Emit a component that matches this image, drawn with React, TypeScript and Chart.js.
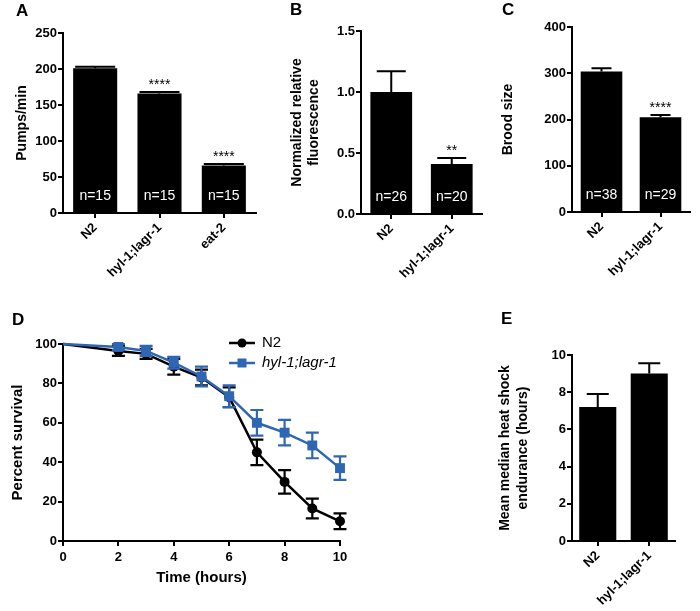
import React, { useEffect, useRef } from 'react';
import { Chart, registerables } from 'chart.js';
Chart.register(...registerables);

const FONT = "'Liberation Sans', Arial, Helvetica, sans-serif";
const BLUE = '#2f66b3';

// ---------- Panel A: pumping rate ----------
const aCategories = ['N2', 'hyl-1;lagr-1', 'eat-2'];
const aValues = [201, 166, 66];
const aErrors = [2, 2, 2];
const aN = ['n=15', 'n=15', 'n=15'];
const aStars = ['', '****', '****'];

// ---------- Panel B: normalized relative fluorescence ----------
const bCategories = ['N2', 'hyl-1;lagr-1'];
const bValues = [1.0, 0.41];
const bErrors = [0.17, 0.05];
const bN = ['n=26', 'n=20'];
const bStars = ['', '**'];

// ---------- Panel C: brood size ----------
const cCategories = ['N2', 'hyl-1;lagr-1'];
const cValues = [304, 205];
const cErrors = [7, 5];
const cN = ['n=38', 'n=29'];
const cStars = ['', '****'];

// ---------- Panel D: survival ----------
const dHours = [0, 2, 3, 4, 5, 6, 7, 8, 9, 10];
const dN2 = [100, 96.5, 95, 88.5, 83, 73, 45, 30, 16.5, 10];
const dN2Err = [0, 2.5, 2.5, 4, 4, 5, 6.5, 6, 5, 4];
const dMut = [100, 98.5, 96.5, 90.5, 83.5, 73.5, 60, 55, 48.5, 37];
const dMutErr = [0, 1.5, 2.5, 3, 5, 5.5, 6.5, 6.5, 6.5, 6];
const dSeriesNames = ['N2', 'hyl-1;lagr-1'];

// ---------- Panel E: heat shock endurance ----------
const eCategories = ['N2', 'hyl-1;lagr-1'];
const eValues = [7.2, 9.0];
const eErrors = [0.7, 0.55];

type Area = { l: number; r: number; t: number; b: number };
type BarPanel = {
  labels: string[];
  values: number[];
  errors: number[];
  nLabels?: string[];
  stars?: string[];
  min: number;
  max: number;
  step: number;
  decimals: number;
  title: string | string[];
  titlePad: number;
  titleLH: number;
  cw: number;
  ch: number;
  area: Area;
  barPct: number;
  capW: number;
};

function makeBar(canvas: HTMLCanvasElement, p: BarPanel) {
  const extras = {
    id: 'barExtras',
    afterDatasetsDraw(chart: any) {
      const { ctx } = chart;
      const y = chart.scales.y;
      const meta = chart.getDatasetMeta(0);
      meta.data.forEach((bar: any, i: number) => {
        const v = p.values[i];
        const e = p.errors[i];
        const yv = y.getPixelForValue(v);
        const yt = y.getPixelForValue(v + e);
        ctx.save();
        ctx.strokeStyle = '#000';
        ctx.lineWidth = 2;
        ctx.beginPath();
        ctx.moveTo(bar.x, yv);
        ctx.lineTo(bar.x, yt);
        ctx.moveTo(bar.x - p.capW / 2, yt);
        ctx.lineTo(bar.x + p.capW / 2, yt);
        ctx.stroke();
        if (p.nLabels) {
          ctx.fillStyle = '#fff';
          ctx.font = `14px ${FONT}`;
          ctx.textAlign = 'center';
          ctx.textBaseline = 'middle';
          ctx.fillText(p.nLabels[i], bar.x, y.bottom - 17);
        }
        if (p.stars && p.stars[i]) {
          ctx.fillStyle = '#000';
          ctx.font = `14px ${FONT}`;
          ctx.textAlign = 'center';
          ctx.textBaseline = 'alphabetic';
          ctx.fillText(p.stars[i], bar.x, yt - 3);
        }
        ctx.restore();
      });
    },
  };
  return new Chart(canvas, {
    type: 'bar',
    data: {
      labels: p.labels,
      datasets: [
        {
          data: p.values,
          backgroundColor: '#000',
          borderWidth: 0,
          barPercentage: p.barPct,
          categoryPercentage: 1,
        },
      ],
    },
    options: {
      animation: false,
      responsive: false,
      events: [],
      layout: { padding: { left: 0, top: p.area.t, right: p.cw - p.area.r, bottom: 0 } },
      plugins: { legend: { display: false }, tooltip: { enabled: false } },
      scales: {
        x: {
          type: 'category',
          offset: true,
          grid: { offset: false, drawOnChartArea: false, drawTicks: true, tickLength: 5, lineWidth: 2, color: '#000' },
          border: { display: true, color: '#000', width: 2 },
          ticks: {
            minRotation: 45,
            maxRotation: 45,
            autoSkip: false,
            padding: 2,
            color: '#000',
            font: { family: FONT, size: 13, weight: 'bold' },
          },
          afterFit: (s: any) => {
            s.height = p.ch - p.area.b;
          },
        },
        y: {
          type: 'linear',
          min: p.min,
          max: p.max,
          grid: { drawOnChartArea: false, drawTicks: true, tickLength: 5, lineWidth: 2, color: '#000' },
          border: { display: true, color: '#000', width: 2 },
          ticks: {
            stepSize: p.step,
            padding: 1,
            color: '#000',
            font: { family: FONT, size: 13, weight: 'bold' },
            callback: (v: any) => Number(v).toFixed(p.decimals),
          },
          title: {
            display: true,
            text: p.title,
            color: '#000',
            font: { family: FONT, size: 14, weight: 'bold', lineHeight: p.titleLH },
            padding: { top: p.titlePad, bottom: 0 },
          },
          afterFit: (s: any) => {
            s.width = p.area.l;
          },
        },
      },
    },
    plugins: [extras],
  } as any);
}

function makeSurvival(canvas: HTMLCanvasElement) {
  const cw = 380;
  const ch = 291;
  const area: Area = { l: 63, r: 340, t: 24, b: 221 };
  const errs = [dN2Err, dMutErr];
  const colors = ['#000', BLUE];
  const errPlugin = {
    id: 'errBars',
    afterDatasetDraw(chart: any, args: any) {
      const { ctx } = chart;
      const y = chart.scales.y;
      const i = args.index;
      const ds = chart.data.datasets[i];
      args.meta.data.forEach((pt: any, j: number) => {
        const e = errs[i][j];
        if (!e) return;
        const v = ds.data[j].y;
        const y1 = y.getPixelForValue(v + e);
        const y2 = y.getPixelForValue(v - e);
        ctx.save();
        ctx.strokeStyle = colors[i];
        ctx.lineWidth = 2.2;
        ctx.beginPath();
        ctx.moveTo(pt.x, y1);
        ctx.lineTo(pt.x, y2);
        ctx.moveTo(pt.x - 6.5, y1);
        ctx.lineTo(pt.x + 6.5, y1);
        ctx.moveTo(pt.x - 6.5, y2);
        ctx.lineTo(pt.x + 6.5, y2);
        ctx.stroke();
        ctx.restore();
      });
    },
    afterDraw(chart: any) {
      const { ctx } = chart;
      const rows = [
        { y: 23, color: '#000', style: 'circle', italic: false },
        { y: 43, color: BLUE, style: 'rect', italic: true },
      ];
      rows.forEach((r, i) => {
        ctx.save();
        ctx.strokeStyle = r.color;
        ctx.fillStyle = r.color;
        ctx.lineWidth = 2.5;
        ctx.beginPath();
        ctx.moveTo(229, r.y);
        ctx.lineTo(255, r.y);
        ctx.stroke();
        if (r.style === 'circle') {
          ctx.beginPath();
          ctx.arc(242, r.y, 4.5, 0, Math.PI * 2);
          ctx.fill();
        } else {
          ctx.fillRect(237.5, r.y - 4.5, 9, 9);
        }
        ctx.fillStyle = '#000';
        ctx.font = `${r.italic ? 'italic ' : ''}15px ${FONT}`;
        ctx.textAlign = 'left';
        ctx.textBaseline = 'middle';
        ctx.fillText(dSeriesNames[i], 262, r.y);
        ctx.restore();
      });
    },
  };
  return new Chart(canvas, {
    type: 'line',
    data: {
      datasets: [
        {
          label: dSeriesNames[0],
          data: dHours.map((h, i) => ({ x: h, y: dN2[i] })),
          borderColor: '#000',
          backgroundColor: '#000',
          pointStyle: 'circle',
          pointRadius: dHours.map((h) => (h === 0 ? 0 : 5)),
          pointBorderWidth: 0,
          borderWidth: 2.5,
          clip: false,
          order: 1,
        },
        {
          label: dSeriesNames[1],
          data: dHours.map((h, i) => ({ x: h, y: dMut[i] })),
          borderColor: BLUE,
          backgroundColor: BLUE,
          pointStyle: 'rect',
          pointRadius: dHours.map((h) => (h === 0 ? 0 : 7)),
          pointBorderWidth: 0,
          borderWidth: 2.5,
          clip: false,
          order: 0,
        },
      ],
    },
    options: {
      animation: false,
      responsive: false,
      events: [],
      layout: { padding: { left: 0, top: area.t, right: cw - area.r, bottom: 0 } },
      plugins: { legend: { display: false }, tooltip: { enabled: false } },
      scales: {
        x: {
          type: 'linear',
          min: 0,
          max: 10,
          grid: { drawOnChartArea: false, drawTicks: true, tickLength: 5, lineWidth: 2, color: '#000' },
          border: { display: true, color: '#000', width: 2 },
          ticks: { stepSize: 2, padding: 4, color: '#000', font: { family: FONT, size: 13, weight: 'bold' } },
          title: {
            display: true,
            text: 'Time (hours)',
            color: '#000',
            font: { family: FONT, size: 15, weight: 'bold' },
            padding: { top: 0, bottom: 24 },
          },
          afterFit: (s: any) => {
            s.height = ch - area.b;
          },
        },
        y: {
          type: 'linear',
          min: 0,
          max: 100,
          grid: { drawOnChartArea: false, drawTicks: true, tickLength: 5, lineWidth: 2, color: '#000' },
          border: { display: true, color: '#000', width: 2 },
          ticks: { stepSize: 20, padding: 1, color: '#000', font: { family: FONT, size: 13, weight: 'bold' } },
          title: {
            display: true,
            text: 'Percent survival',
            color: '#000',
            font: { family: FONT, size: 15, weight: 'bold' },
            padding: { top: 9, bottom: 0 },
          },
          afterFit: (s: any) => {
            s.width = area.l;
          },
        },
      },
    },
    plugins: [errPlugin],
  } as any);
}

const panels = [
  { key: 'A', left: 0, top: 0, w: 262, h: 320 },
  { key: 'B', left: 262, top: 0, w: 228, h: 320 },
  { key: 'C', left: 490, top: 0, w: 210, h: 320 },
  { key: 'D', left: 0, top: 320, w: 380, h: 291 },
  { key: 'E', left: 380, top: 320, w: 320, h: 291 },
];

const letters = [
  { t: 'A', x: 16, y: 2 },
  { t: 'B', x: 290, y: 1 },
  { t: 'C', x: 502, y: 1 },
  { t: 'D', x: 12, y: 311 },
  { t: 'E', x: 501, y: 310 },
];

export default function App() {
  const refs = useRef<(HTMLCanvasElement | null)[]>([]);
  useEffect(() => {
    document.body.style.margin = '0';
    const [a, b, c, d, e] = refs.current as HTMLCanvasElement[];
    const charts = [
      makeBar(a, {
        labels: aCategories, values: aValues, errors: aErrors, nLabels: aN, stars: aStars,
        min: 0, max: 250, step: 50, decimals: 0, title: 'Pumps/min', titlePad: 13.6, titleLH: 1.2,
        cw: 262, ch: 320, area: { l: 63, r: 256, t: 33, b: 213 }, barPct: 0.685, capW: 40,
      }),
      makeBar(b, {
        labels: bCategories, values: bValues, errors: bErrors, nLabels: bN, stars: bStars,
        min: 0, max: 1.5, step: 0.5, decimals: 1, title: ['Normalized relative', 'fluorescence'],
        titlePad: 26.6, titleLH: 1.2,
        cw: 228, ch: 320, area: { l: 99, r: 220, t: 31, b: 214 }, barPct: 0.69, capW: 29,
      }),
      makeBar(c, {
        labels: cCategories, values: cValues, errors: cErrors, nLabels: cN, stars: cStars,
        min: 0, max: 400, step: 100, decimals: 0, title: 'Brood size', titlePad: 9.6, titleLH: 1.2,
        cw: 210, ch: 320, area: { l: 82, r: 200, t: 27, b: 212 }, barPct: 0.705, capW: 20,
      }),
      makeSurvival(d),
      makeBar(e, {
        labels: eCategories, values: eValues, errors: eErrors,
        min: 0, max: 10, step: 2, decimals: 0, title: ['Mean median heat shock', 'endurance (hours)'],
        titlePad: 116, titleLH: 1.3,
        cw: 320, ch: 291, area: { l: 192, r: 295, t: 35, b: 221 }, barPct: 0.72, capW: 22,
      }),
    ];
    return () => charts.forEach((ch) => ch.destroy());
  }, []);

  return (
    <div style={{ position: 'relative', width: 700, height: 611, background: '#fff', overflow: 'hidden' }}>
      {panels.map((p, i) => (
        <canvas
          key={p.key}
          ref={(el) => {
            refs.current[i] = el;
          }}
          width={p.w}
          height={p.h}
          style={{ position: 'absolute', left: p.left, top: p.top, width: p.w, height: p.h }}
        />
      ))}
      {letters.map((l) => (
        <div
          key={l.t}
          style={{
            position: 'absolute',
            left: l.x,
            top: l.y,
            fontFamily: FONT,
            fontWeight: 'bold',
            fontSize: 17,
            lineHeight: '17px',
            color: '#000',
          }}
        >
          {l.t}
        </div>
      ))}
    </div>
  );
}
